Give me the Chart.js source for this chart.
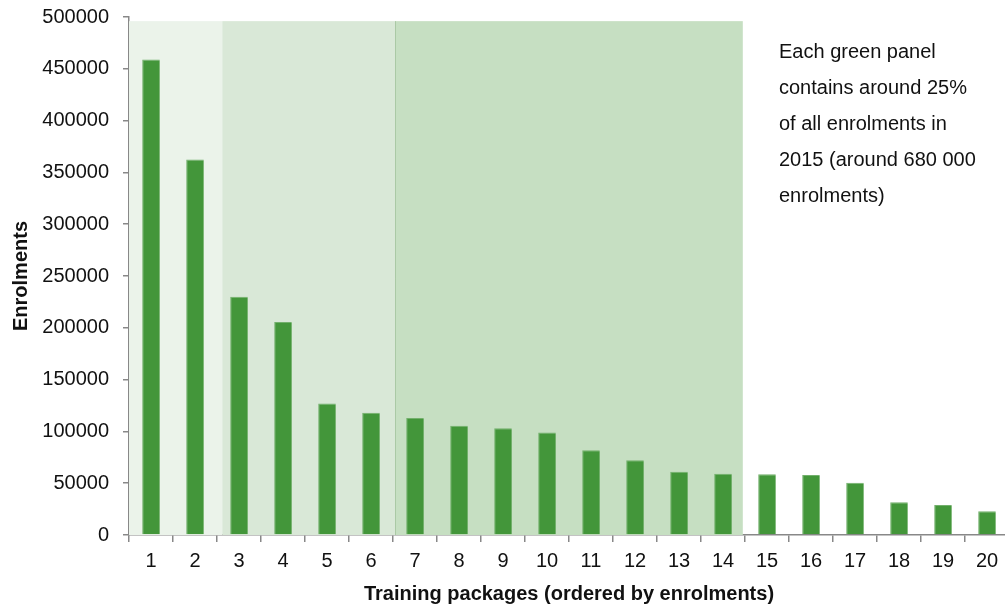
<!DOCTYPE html>
<html>
<head>
<meta charset="utf-8">
<script src="https://cdn.jsdelivr.net/npm/chart.js@4/dist/chart.umd.min.js"></script>
<style>
  html, body { margin: 0; padding: 0; background: #fff; overflow: hidden; }
  #wrap { position: relative; width: 1010px; height: 610px; }
  #note {
    position: absolute; left: 779px; top: 33px;
    font: 20px "Liberation Sans", Arial, sans-serif; line-height: 36px; color: #111;
  }
</style>
</head>
<body>
<div id="wrap">
  <canvas id="chart" width="1010" height="610"></canvas>
  <div id="note">Each green panel<br>contains around 25%<br>of all enrolments in<br>2015 (around 680 000<br>enrolments)</div>
</div>
<script>
const packages = ["1","2","3","4","5","6","7","8","9","10","11","12","13","14","15","16","17","18","19","20"];
const enrolments = [459000, 362500, 230000, 205500, 127000, 118000, 113000, 105500, 103000, 99000,
                    81700, 72100, 61100, 59200, 58600, 57900, 50500, 31500, 29000, 22900];
// panel boundaries in category units, and their shades
const panelEdges = [-0.5, 1.62, 5.55, 13.45];
const panelColors = ["#ebf3ea", "#d9e8d7", "#c6dfc2"];
const panelTop = 496000;

const FONT = "'Liberation Sans', Arial, sans-serif";

const panels = {
  id: "panels",
  beforeDatasetsDraw(chart) {
    const ctx = chart.ctx;
    const x = chart.scales.x, y = chart.scales.y;
    const step = x.getPixelForValue(1) - x.getPixelForValue(0);
    const px = v => x.getPixelForValue(0) + v * step;
    const top = y.getPixelForValue(panelTop), bottom = y.getPixelForValue(0);
    ctx.save();
    for (let i = 0; i < panelColors.length; i++) {
      const x0 = px(panelEdges[i]);
      const x1 = px(panelEdges[i + 1]);
      ctx.fillStyle = panelColors[i];
      ctx.fillRect(x0, top, x1 - x0, bottom - top);
    }
    ctx.strokeStyle = "#aac9a5";
    ctx.lineWidth = 1;
    const xl = Math.round(px(panelEdges[2])) + 0.5;
    ctx.beginPath();
    ctx.moveTo(xl, top);
    ctx.lineTo(xl, bottom);
    ctx.stroke();
    ctx.restore();
  }
};

new Chart(document.getElementById("chart"), {
  type: "bar",
  data: {
    labels: packages,
    datasets: [{
      data: enrolments,
      backgroundColor: "#43963a",
      borderColor: "#72b06b",
      borderWidth: { top: 1, left: 1, right: 0, bottom: 0 },
      borderSkipped: "bottom",
      barPercentage: 0.4,
      categoryPercentage: 1
    }]
  },
  plugins: [panels],
  options: {
    responsive: false,
    animation: false,
    layout: { padding: { top: 17, right: 1, left: 0, bottom: 0 } },
    plugins: { legend: { display: false }, tooltip: { enabled: false } },
    scales: {
      x: {
        afterFit(s) { s.height = 75; },
        grid: { display: true, drawOnChartArea: false, drawTicks: true, tickLength: 7, color: "#888", lineWidth: 1.5 },
        border: { color: "#888", width: 1.5 },
        ticks: { color: "#111", font: { family: FONT, size: 20 }, padding: 7, maxRotation: 0 },
        title: {
          display: true, text: "Training packages (ordered by enrolments)",
          color: "#111", font: { family: FONT, size: 20, weight: "bold" }, padding: { top: 2, bottom: 4 }
        }
      },
      y: {
        min: 0, max: 500000,
        afterFit(s) { s.width = 129; s.paddingTop = 0; s.paddingBottom = 0; },
        grid: { display: true, drawOnChartArea: false, drawTicks: true, tickLength: 6, color: "#888", lineWidth: 1.5 },
        border: { color: "#888", width: 1.5 },
        ticks: { stepSize: 50000, color: "#111", font: { family: FONT, size: 20 }, padding: 14,
                 callback: v => String(v) },
        title: {
          display: true, text: "Enrolments",
          color: "#111", font: { family: FONT, size: 20, weight: "bold" }, padding: { top: 9, bottom: 0 }
        }
      }
    }
  }
});
</script>
</body>
</html>
